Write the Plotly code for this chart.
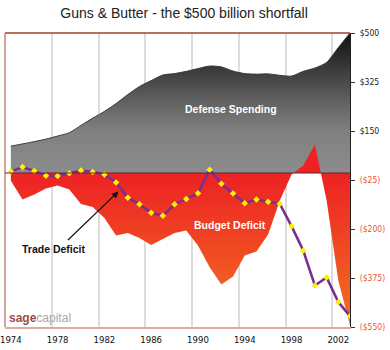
import plotly.graph_objects as go

years = list(range(1974, 2004))
defense = [96, 104, 112, 121, 132, 144, 170, 196, 220, 248,
           280, 309, 330, 350, 355, 363, 373, 382, 379, 364,
           355, 353, 354, 349, 346, 363, 375, 395, 448, 500]
budget = [-28, -95, -77, -55, -45, -59, -111, -121, -161, -223,
          -214, -232, -257, -236, -214, -205, -259, -337, -398, -370,
          -295, -280, -220, -98, -5, 27, 102, -98, -384, -545]
trade = [5, 21, 7, -10, -11, -1, 9, 4, -5, -34,
         -88, -112, -142, -153, -112, -93, -72, 12, -38, -73,
         -108, -95, -103, -110, -190, -277, -402, -373, -461, -511]

x_ticks = [1974, 1978, 1982, 1986, 1990, 1994, 1998, 2002]
grid_x = [1977.5, 1981.5, 1985.5, 1989.5, 1993.5, 1997.5, 2001.5]
y_ticks = [500, 325, 150, -25, -200, -375, -550]
NEG = "#EE5533"


def money(v):
    if v < 0:
        return f"<span style='color:{NEG}'>(${-v})</span>"
    return f"${v}"


y_text = [money(v) for v in y_ticks]

NARROW = "Liberation Sans Narrow, Arial Narrow, DejaVu Sans Condensed, Liberation Sans, Arial"
SANS = "Liberation Sans, Arial, sans-serif"

fig = go.Figure()

fig.add_trace(go.Scatter(
    x=years, y=defense, mode="lines", fill="tozeroy",
    line=dict(color="#3a3a3a", width=1, shape="spline", smoothing=0.7),
    fillgradient=dict(type="vertical", start=0, stop=500,
                      colorscale=[[0, "#8c8c8c"], [0.3, "#808080"], [0.5, "#636363"],
                                  [0.65, "#4a4a4a"], [0.8, "#313131"], [1, "#111111"]]),
    hoverinfo="skip", showlegend=False))

fig.add_trace(go.Scatter(
    x=years, y=budget, mode="lines", fill="tozeroy",
    line=dict(color="rgba(0,0,0,0)", width=0),
    fillgradient=dict(type="vertical", start=0, stop=-550,
                      colorscale=[[0, "#ED2224"], [0.4, "#EF4123"], [0.7, "#F15A22"], [1, "#F36F21"]]),
    hoverinfo="skip", showlegend=False))

fig.add_trace(go.Scatter(
    x=years, y=trade, mode="lines+markers",
    line=dict(color="#7B2F8E", width=2.6),
    marker=dict(symbol="diamond", size=5, color="#FFF000", line=dict(width=0)),
    hoverinfo="skip", showlegend=False))

fig.update_layout(
    width=390, height=350,
    margin=dict(l=5, r=40, t=33, b=23),
    paper_bgcolor="white", plot_bgcolor="white",
    title=dict(text="Guns & Butter - the $500 billion shortfall",
               x=0.472, xanchor="center", y=0.964, yanchor="middle",
               font=dict(family=SANS, size=14, color="#222222")),
    xaxis=dict(range=[1973.5, 2003], tickvals=x_ticks, ticktext=[str(v) for v in x_ticks],
               showgrid=False, zeroline=False, ticks="", ticklabeloverflow="allow",
               ticklabelstandoff=3, automargin=False,
               minor=dict(tickvals=grid_x, showgrid=True, gridcolor="#dcdcdc", gridwidth=1.5, ticks=""),
               showline=True, linecolor="#E2A898", linewidth=2,
               tickfont=dict(family=NARROW, size=9.5, color="#111111")),
    yaxis=dict(range=[-550, 500], side="right", tickvals=y_ticks, ticktext=y_text,
               showgrid=False, zeroline=False, ticks="outside", ticklen=4, tickcolor="#333333",
               showline=True, linecolor="#222222", linewidth=1, ticklabelstandoff=3,
               ticklabeloverflow="allow", automargin=False,
               tickfont=dict(family=NARROW, size=8.5, color="#222222")),
    shapes=[
        dict(type="line", xref="paper", yref="paper", x0=0, x1=1, y0=1, y1=1,
             line=dict(color="#A0402C", width=1.5), layer="above"),
        dict(type="line", xref="paper", yref="paper", x0=0, x1=0, y0=0, y1=1,
             line=dict(color="#C48878", width=1.5), layer="above"),
        dict(type="line", xref="paper", yref="y", x0=0, x1=1, y0=0, y1=0,
             line=dict(color="#6a2222", width=1.2), layer="above"),
    ],
    annotations=[
        dict(x=1992.8, y=230, xref="x", yref="y", text="<b>Defense Spending</b>", showarrow=False,
             font=dict(family=SANS, size=10.5, color="white")),
        dict(x=1992.7, y=-184, xref="x", yref="y", text="<b>Budget Deficit</b>", showarrow=False,
             font=dict(family=SANS, size=10.5, color="white")),
        dict(x=1977.7, y=-270, xref="x", yref="y", text="<b>Trade Deficit</b>", showarrow=False,
             font=dict(family=SANS, size=10.5, color="#111111")),
        dict(x=1983.2, y=-66, xref="x", yref="y", text="", showarrow=True,
             ax=-52, ay=50, arrowhead=2, arrowsize=1.1, arrowwidth=1.2, arrowcolor="#111111"),
        dict(x=0.006, y=0.032, xref="paper", yref="paper", xanchor="left", yanchor="middle",
             text="<b><span style='color:#9C4A48'>sage</span></b><span style='color:#A8A8A8'>capital</span>",
             showarrow=False, font=dict(family=SANS, size=12)),
    ],
)

fig.write_html("out.html")
